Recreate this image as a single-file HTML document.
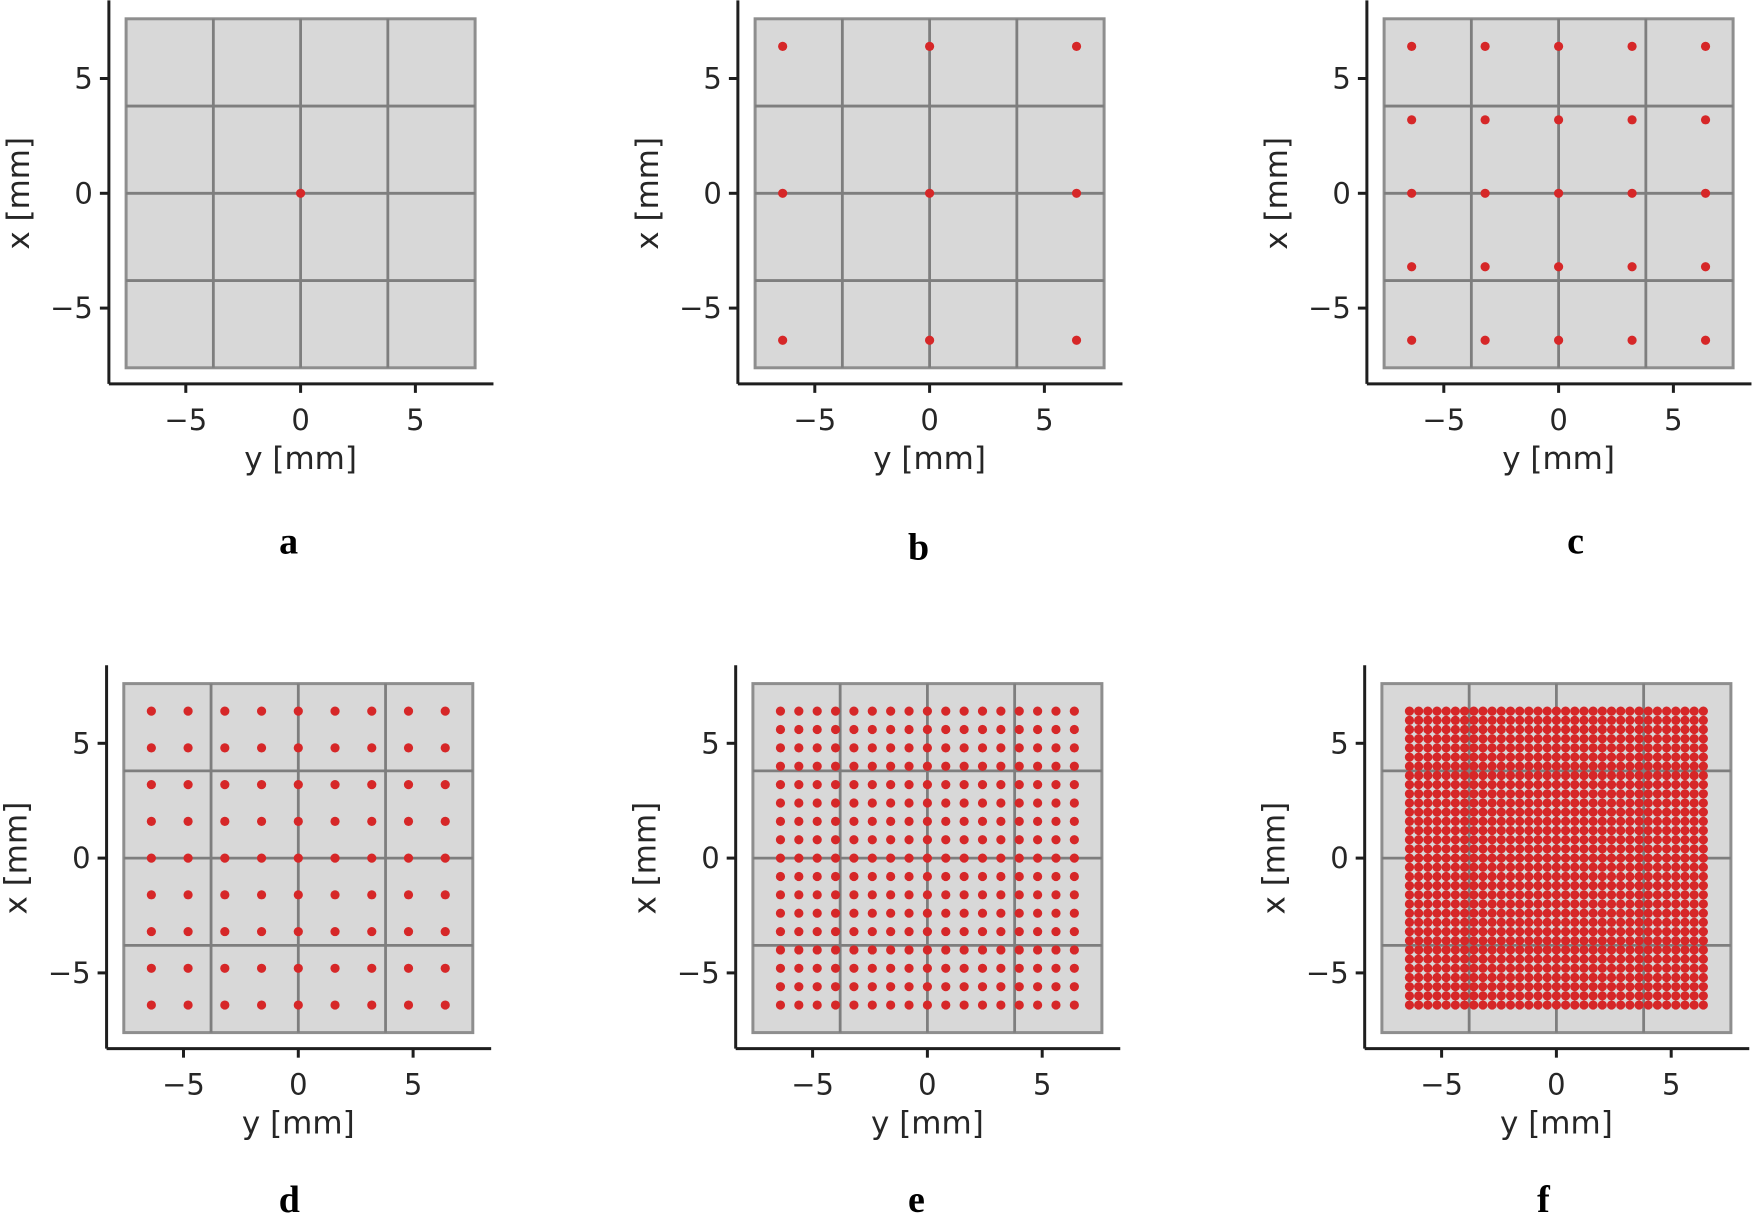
<!DOCTYPE html>
<html><head><meta charset="utf-8">
<style>
html,body{margin:0;padding:0;background:#fff;}
svg{display:block;}
.tk{font-family:"DejaVu Sans","Liberation Sans",sans-serif;font-size:29px;fill:#262626;}
.lab{font-family:"DejaVu Sans","Liberation Sans",sans-serif;font-size:31px;fill:#262626;}
.pl{font-family:"Liberation Serif",serif;font-weight:bold;font-size:38px;fill:#000;}
</style></head>
<body>
<svg id="fig" width="1752" height="1216" viewBox="0 0 1752 1216" xmlns="http://www.w3.org/2000/svg"></svg>
<script>
const panelLetters = ['a','b','c','d','e','f'];
const pointsPerSide = [1,3,5,9,17,33];
const pointHalfExtent = 6.4;
const tickValues = [-5,0,5];
const tickLabels = ['\u22125','0','5'];
const boxHalf = 7.6;
const gridLines = [-3.8,0,3.8];

const NS='http://www.w3.org/2000/svg';
const svg=document.getElementById('fig');
const centers=[[300.6,193.3],[929.6,193.3],[1558.6,193.3],[298.3,858.1],[927.4,858.1],[1556.4,858.1]];
const labelDx=[-12,-11,17,-9,-11,-13];
const labelDy=[360,366,360,354,354,354];
const U=22.96;
const XL=[-8.35,8.4], YL=[-8.3,8.4];
function mk(tag,attrs,parent){const e=document.createElementNS(NS,tag);for(const k in attrs)e.setAttribute(k,attrs[k]);(parent||svg).appendChild(e);return e;}

panelLetters.forEach((L,i)=>{
  const [cx,cy]=centers[i];
  const sx=v=>cx+v*U, sy=v=>cy-v*U;
  const g=mk('g',{});
  
  
  const box=mk('rect',{x:sx(-boxHalf),y:sy(boxHalf),width:2*boxHalf*U,height:2*boxHalf*U,fill:'#d8d8d8',stroke:'#8e8e8e','stroke-width':3},g);
  
  
  gridLines.forEach(v=>{
    const a=mk('line',{x1:sx(v),x2:sx(v),y1:sy(boxHalf),y2:sy(-boxHalf),stroke:'#7e7e7e','stroke-width':2.8},g);
    
    
    const b=mk('line',{x1:sx(-boxHalf),x2:sx(boxHalf),y1:sy(v),y2:sy(v),stroke:'#7e7e7e','stroke-width':2.8},g);
    
    
  });
  const n=pointsPerSide[i];
  const coords=[];
  for(let k=0;k<n;k++)coords.push(n===1?0:-pointHalfExtent+2*pointHalfExtent*k/(n-1));
  coords.forEach(yv=>coords.forEach(xv=>{
    const c=mk('circle',{cx:sx(yv),cy:sy(xv),r:4.6,fill:'#d62728'},g);
    
    
  }));
  const ax=mk('line',{x1:sx(XL[0]),x2:sx(XL[1]),y1:sy(YL[0]),y2:sy(YL[0]),stroke:'#1e1e1e','stroke-width':3},g);
  
  
  const ay=mk('line',{x1:sx(XL[0]),x2:sx(XL[0]),y1:sy(YL[0]),y2:sy(YL[1]),stroke:'#1e1e1e','stroke-width':3},g);
  
  
  tickValues.forEach((v,j)=>{
    mk('line',{x1:sx(v),x2:sx(v),y1:sy(YL[0]),y2:sy(YL[0])+9,stroke:'#1e1e1e','stroke-width':3},g);
    const t=mk('text',{x:sx(v),y:sy(YL[0])+46,'text-anchor':'middle',class:'tk'},g);
    t.textContent=tickLabels[j];
    
    
    mk('line',{x1:sx(XL[0]),x2:sx(XL[0])-9,y1:sy(v),y2:sy(v),stroke:'#1e1e1e','stroke-width':3},g);
    const t2=mk('text',{x:sx(XL[0])-16,y:sy(v)+10,'text-anchor':'end',class:'tk'},g);
    t2.textContent=tickLabels[j];
    
    
  });
  const xt=mk('text',{x:cx,y:sy(YL[0])+85,'text-anchor':'middle',class:'lab'},g);
  xt.textContent='y [mm]';
  
  
  const yx=sx(XL[0])-80, yy=cy;
  const yt=mk('text',{x:yx,y:yy,'text-anchor':'middle',class:'lab',transform:`rotate(-90 ${yx} ${yy})`},g);
  yt.textContent='x [mm]';
  
  
  const pl=mk('text',{x:cx+labelDx[i],y:cy+labelDy[i],'text-anchor':'middle',class:'pl'},g);
  pl.textContent=L;
  
  
});
</script>
</body></html>
